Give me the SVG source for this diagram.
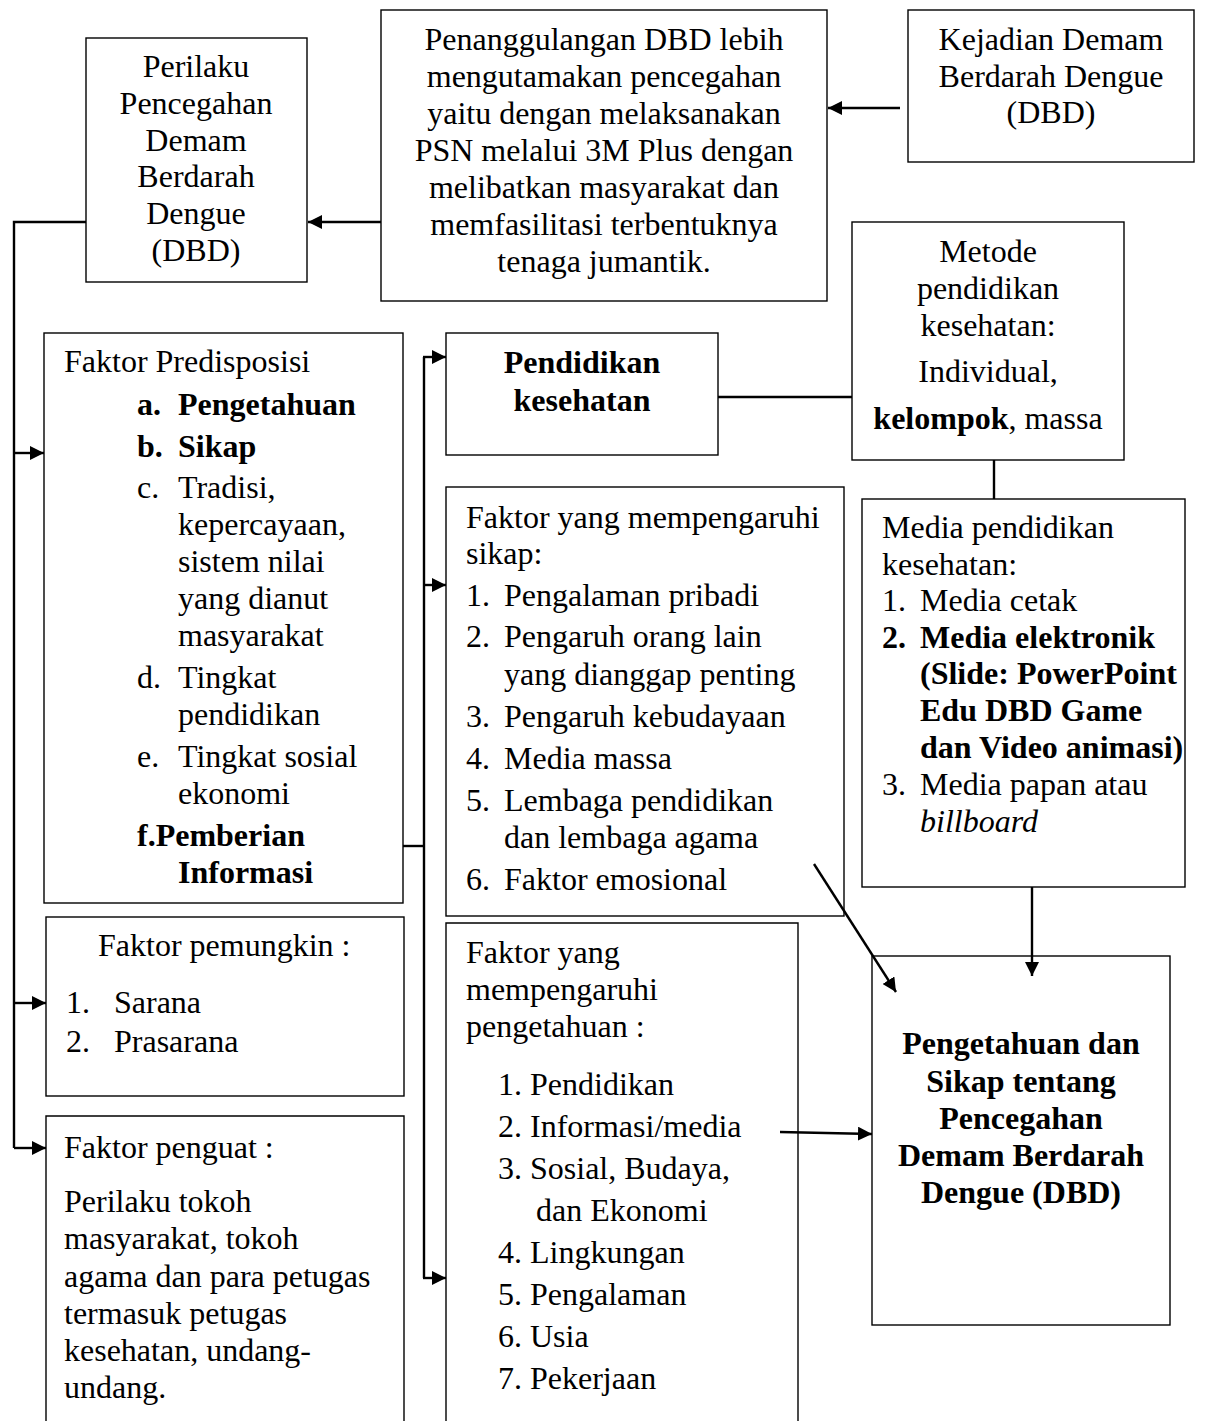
<svg xmlns="http://www.w3.org/2000/svg" width="1220" height="1421" viewBox="0 0 1220 1421">
<style>
.box{fill:#fff;stroke:#000;stroke-width:1.4}
.ln{fill:none;stroke:#000;stroke-width:2.4}
text{font-family:"Liberation Serif","Times New Roman",serif;font-size:32px;fill:#000}
.c{text-anchor:middle}
.b{font-weight:bold}
</style>
<defs>
<marker id="ah" viewBox="0 0 10 10" refX="10" refY="5" markerWidth="14" markerHeight="14" markerUnits="userSpaceOnUse" orient="auto">
<path d="M0,0 L10,5 L0,10 z" fill="#000"/>
</marker>
</defs>
<rect width="1220" height="1421" fill="#fff"/>

<g id="perilaku">
<rect class="box" x="86" y="38" width="221" height="244"/>
<text class="c" x="196" y="77">Perilaku</text>
<text class="c" x="196" y="114">Pencegahan</text>
<text class="c" x="196" y="151">Demam</text>
<text class="c" x="196" y="187">Berdarah</text>
<text class="c" x="196" y="224">Dengue</text>
<text class="c" x="196" y="261">(DBD)</text>
</g>

<g id="penanggulangan">
<rect class="box" x="381" y="10" width="446" height="291"/>
<text class="c" x="604" y="50">Penanggulangan DBD lebih</text>
<text class="c" x="604" y="87">mengutamakan pencegahan</text>
<text class="c" x="604" y="124">yaitu dengan melaksanakan</text>
<text class="c" x="604" y="161">PSN melalui 3M Plus dengan</text>
<text class="c" x="604" y="198">melibatkan masyarakat dan</text>
<text class="c" x="604" y="235">memfasilitasi terbentuknya</text>
<text class="c" x="604" y="272">tenaga jumantik.</text>
</g>

<g id="kejadian">
<rect class="box" x="908" y="10" width="286" height="152"/>
<text class="c" x="1051" y="50">Kejadian Demam</text>
<text class="c" x="1051" y="87">Berdarah Dengue</text>
<text class="c" x="1051" y="123">(DBD)</text>
</g>

<g id="predisposisi">
<rect class="box" x="44" y="333" width="359" height="570"/>
<text x="64" y="372">Faktor Predisposisi</text>
<text class="b" x="137" y="415">a.</text><text class="b" x="178" y="415">Pengetahuan</text>
<text class="b" x="137" y="457">b.</text><text class="b" x="178" y="457">Sikap</text>
<text x="137" y="498">c.</text><text x="178" y="498">Tradisi,</text>
<text x="178" y="535">kepercayaan,</text>
<text x="178" y="572">sistem nilai</text>
<text x="178" y="609">yang dianut</text>
<text x="178" y="646">masyarakat</text>
<text x="137" y="688">d.</text><text x="178" y="688">Tingkat</text>
<text x="178" y="725">pendidikan</text>
<text x="137" y="767">e.</text><text x="178" y="767">Tingkat sosial</text>
<text x="178" y="804">ekonomi</text>
<text class="b" x="137" y="846">f.Pemberian</text>
<text class="b" x="178" y="883">Informasi</text>
</g>

<g id="pemungkin">
<rect class="box" x="46" y="917" width="358" height="179"/>
<text x="98" y="956">Faktor pemungkin :</text>
<text x="66" y="1013">1.</text><text x="114" y="1013">Sarana</text>
<text x="66" y="1052">2.</text><text x="114" y="1052">Prasarana</text>
</g>

<g id="penguat">
<path class="box" d="M46,1430 V1116 H404 V1430"/>
<text x="64" y="1158">Faktor penguat :</text>
<text x="64" y="1212">Perilaku  tokoh</text>
<text x="64" y="1249">masyarakat, tokoh</text>
<text x="64" y="1287">agama dan para petugas</text>
<text x="64" y="1324">termasuk petugas</text>
<text x="64" y="1361">kesehatan, undang-</text>
<text x="64" y="1398">undang.</text>
</g>

<g id="pendidikan">
<rect class="box" x="446" y="333" width="272" height="122"/>
<text class="c b" x="582" y="373">Pendidikan</text>
<text class="c b" x="582" y="411">kesehatan</text>
</g>

<g id="sikap">
<rect class="box" x="446" y="487" width="398" height="429"/>
<text x="466" y="528">Faktor yang mempengaruhi</text>
<text x="466" y="564">sikap:</text>
<text x="466" y="606">1.</text><text x="504" y="606">Pengalaman pribadi</text>
<text x="466" y="647">2.</text><text x="504" y="647">Pengaruh orang lain</text>
<text x="504" y="685">yang dianggap penting</text>
<text x="466" y="727">3.</text><text x="504" y="727">Pengaruh kebudayaan</text>
<text x="466" y="769">4.</text><text x="504" y="769">Media massa</text>
<text x="466" y="811">5.</text><text x="504" y="811">Lembaga pendidikan</text>
<text x="504" y="848">dan lembaga agama</text>
<text x="466" y="890">6.</text><text x="504" y="890">Faktor emosional</text>
</g>

<g id="pengetahuan">
<path class="box" d="M446,1430 V923 H798 V1430"/>
<text x="466" y="963">Faktor yang</text>
<text x="466" y="1000">mempengaruhi</text>
<text x="466" y="1037">pengetahuan :</text>
<text x="498" y="1095">1. Pendidikan</text>
<text x="498" y="1137">2. Informasi/media</text>
<text x="498" y="1179">3. Sosial, Budaya,</text>
<text x="536" y="1221">dan Ekonomi</text>
<text x="498" y="1263">4. Lingkungan</text>
<text x="498" y="1305">5. Pengalaman</text>
<text x="498" y="1347">6. Usia</text>
<text x="498" y="1389">7. Pekerjaan</text>
</g>

<g id="metode">
<rect class="box" x="852" y="222" width="272" height="238"/>
<text class="c" x="988" y="262">Metode</text>
<text class="c" x="988" y="299">pendidikan</text>
<text class="c" x="988" y="336">kesehatan:</text>
<text class="c" x="988" y="382">Individual,</text>
<text class="c" x="988" y="429"><tspan class="b">kelompok</tspan>, massa</text>
</g>

<g id="media">
<rect class="box" x="862" y="499" width="323" height="388"/>
<text x="882" y="538">Media pendidikan</text>
<text x="882" y="575">kesehatan:</text>
<text x="882" y="611">1.</text><text x="920" y="611">Media cetak</text>
<text class="b" x="882" y="648">2.</text><text class="b" x="920" y="648">Media elektronik</text>
<text class="b" x="920" y="684">(Slide: PowerPoint</text>
<text class="b" x="920" y="721">Edu DBD Game</text>
<text class="b" x="920" y="758">dan Video animasi)</text>
<text x="882" y="795">3.</text><text x="920" y="795">Media papan atau</text>
<text x="920" y="832" font-style="italic">billboard</text>
</g>

<g id="hasil">
<rect class="box" x="872" y="956" width="298" height="369"/>
<text class="c b" x="1021" y="1054">Pengetahuan dan</text>
<text class="c b" x="1021" y="1092">Sikap tentang</text>
<text class="c b" x="1021" y="1129">Pencegahan</text>
<text class="c b" x="1021" y="1166">Demam Berdarah</text>
<text class="c b" x="1021" y="1203">Dengue (DBD)</text>
</g>

<g id="connectors">
<line class="ln" x1="900" y1="108" x2="828" y2="108" marker-end="url(#ah)"/>
<line class="ln" x1="381" y1="222" x2="308" y2="222" marker-end="url(#ah)"/>
<polyline class="ln" points="86,222 14,222 14,1148"/>
<line class="ln" x1="14" y1="453" x2="44" y2="453" marker-end="url(#ah)"/>
<line class="ln" x1="14" y1="1003" x2="46" y2="1003" marker-end="url(#ah)"/>
<line class="ln" x1="14" y1="1148" x2="46" y2="1148" marker-end="url(#ah)"/>
<line class="ln" x1="403" y1="846" x2="424" y2="846"/>
<line class="ln" x1="424" y1="357" x2="424" y2="1278"/>
<line class="ln" x1="423" y1="357" x2="446" y2="357" marker-end="url(#ah)"/>
<line class="ln" x1="423" y1="585" x2="446" y2="585" marker-end="url(#ah)"/>
<line class="ln" x1="423" y1="1278" x2="446" y2="1278" marker-end="url(#ah)"/>
<line class="ln" x1="718" y1="397" x2="852" y2="397" stroke-width="1.6"/>
<line class="ln" x1="994" y1="460" x2="994" y2="499" stroke-width="1.6"/>
<line class="ln" x1="1032" y1="887" x2="1032" y2="976" marker-end="url(#ah)"/>
<line class="ln" x1="814" y1="864" x2="896" y2="992" marker-end="url(#ah)"/>
<line class="ln" x1="780" y1="1132" x2="872" y2="1134" marker-end="url(#ah)"/>
</g>
</svg>
